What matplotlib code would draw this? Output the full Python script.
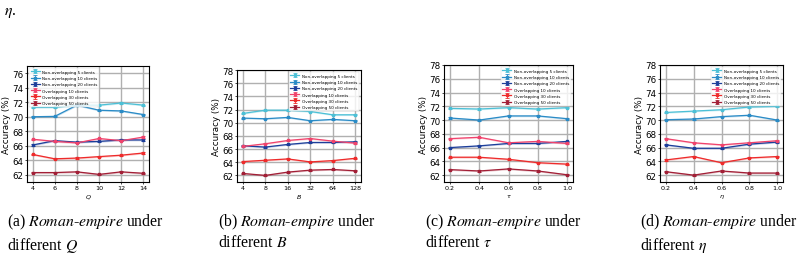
import numpy as np
import matplotlib
matplotlib.use('Agg')
import matplotlib.pyplot as plt

# series labels / colors
series_names = ['Non-overlapping 5 clients', 'Non-overlapping 10 clients', 'Non-overlapping 20 clients',
                'Overlapping 10 clients', 'Overlapping 30 clients', 'Overlapping 50 clients']
colors = ['#4cc0d6', '#2a8bc6', '#1c3e9a', '#f0436c', '#ee2b2b', '#a21f36']

# (a) different Q
q_vals = [4, 6, 8, 10, 12, 14]
acc_q = [
    [71.3, 71.3, 71.6, 71.6, 71.9, 71.6],
    [70.0, 70.05, 71.6, 70.9, 70.8, 70.3],
    [66.1, 66.7, 66.5, 66.6, 66.8, 66.8],
    [66.9, 66.6, 66.4, 67.0, 66.7, 67.2],
    [64.8, 64.2, 64.3, 64.5, 64.7, 65.0],
    [62.3, 62.3, 62.4, 62.05, 62.4, 62.2],
]

# (b) different B
b_labels = ['4', '8', '16', '32', '64', '128']
acc_b = [
    [71.4, 71.9, 71.9, 71.7, 71.2, 71.2],
    [70.7, 70.6, 70.8, 70.3, 70.5, 70.3],
    [66.5, 66.3, 66.7, 67.0, 67.0, 67.1],
    [66.4, 66.8, 67.3, 67.6, 67.2, 66.9],
    [64.1, 64.3, 64.5, 64.05, 64.25, 64.6],
    [62.3, 62.0, 62.5, 62.8, 62.9, 62.7],
]

# (c) different tau
tau_vals = [0.2, 0.4, 0.6, 0.8, 1.0]
acc_tau = [
    [71.7, 71.6, 71.8, 71.6, 71.8],
    [70.3, 70.0, 70.6, 70.6, 70.2],
    [66.0, 66.25, 66.6, 66.6, 66.9],
    [67.3, 67.5, 66.7, 66.9, 66.6],
    [64.6, 64.6, 64.3, 63.8, 63.6],
    [62.8, 62.6, 62.9, 62.6, 62.05],
]

# (d) different eta
eta_vals = [0.2, 0.4, 0.6, 0.8, 1.0]
acc_eta = [
    [71.1, 71.3, 71.5, 71.9, 72.0],
    [70.05, 70.15, 70.5, 70.7, 70.0],
    [66.4, 65.9, 65.9, 66.5, 66.8],
    [67.3, 66.7, 66.4, 66.7, 67.0],
    [64.2, 64.7, 63.8, 64.5, 64.7],
    [62.5, 62.0, 62.6, 62.3, 62.3],
]

captions = [r'(a) $\mathit{Roman}$-$\mathit{empire}$ under' + '\n' + r'different $Q$',
            r'(b) $\mathit{Roman}$-$\mathit{empire}$ under' + '\n' + r'different $B$',
            r'(c) $\mathit{Roman}$-$\mathit{empire}$ under' + '\n' + r'different $\tau$',
            r'(d) $\mathit{Roman}$-$\mathit{empire}$ under' + '\n' + r'different $\eta$']

fig = plt.figure(figsize=(8.05, 2.55), dpi=100)

# axes boxes in pixels: left, top, right, bottom
boxes = [(27, 67, 149, 183), (237, 71, 361, 183), (444, 66, 573, 183), (660, 66, 783, 183)]


def make_ax(box):
    l, t, r, b = box
    return fig.add_axes([l / 805, (255 - b) / 255, (r - l) / 805, (b - t) / 255])


def draw_panel(ax, x, data, xlabel, legend_loc, top):
    for vals, c, name in zip(data, colors, series_names):
        vals = np.array(vals)
        ax.fill_between(x, vals - 0.12, vals + 0.12, color=c, alpha=0.25, lw=0)
        ax.errorbar(x, vals, yerr=0.08, color=c, marker='s', ms=1.6, lw=0.9,
                    capsize=1.5, elinewidth=0.6, capthick=0.6, label=name)
    ax.set_ylim(61, top)
    ax.set_yticks(np.arange(62, top + 0.1, 2))
    ax.grid(True, color='#b0b0b0', linewidth=1.0)
    ax.set_axisbelow(True)
    ax.tick_params(axis='y', labelsize=6.3, length=1.5, width=0.5, pad=1)
    ax.tick_params(axis='x', labelsize=4.6, length=1.5, width=0.5, pad=1)
    ax.set_ylabel('Accuracy (%)', fontsize=6.3, labelpad=1)
    ax.set_xlabel(xlabel, fontsize=4.6, labelpad=1)
    for s in ax.spines.values():
        s.set_linewidth(0.8)
    leg = ax.legend(loc=legend_loc, fontsize=3.0, handlelength=2.2, handletextpad=0.6,
                    borderpad=0.4, labelspacing=0.55, framealpha=0.8, fancybox=False)
    leg.get_frame().set_linewidth(0.3)


ax_a = make_ax(boxes[0])
draw_panel(ax_a, q_vals, acc_q, r'$Q$', 'upper left', 77)
ax_a.set_xticks(q_vals)

ax_b = make_ax(boxes[1])
draw_panel(ax_b, np.arange(len(b_labels)), acc_b, r'$B$', 'upper right', 78)
ax_b.set_xticks(np.arange(len(b_labels)))
ax_b.set_xticklabels(b_labels)

ax_c = make_ax(boxes[2])
draw_panel(ax_c, tau_vals, acc_tau, r'$\tau$', 'upper right', 78)
ax_c.set_xticks(tau_vals)

ax_d = make_ax(boxes[3])
draw_panel(ax_d, eta_vals, acc_eta, r'$\eta$', 'upper right', 78)
ax_d.set_xticks(eta_vals)

# captions (serif, like the paper)
cap_x = [7, 218, 425, 640]
for cx, txt in zip(cap_x, captions):
    fig.text(cx / 805, 1 - 213 / 255, txt, fontsize=11.3, family='Liberation Serif',
             math_fontfamily='stix', va='top', ha='left', linespacing=1.25)

fig.text(4 / 805, 1 - 4 / 255, r'$\eta$.', fontsize=11.3, family='Liberation Serif',
         math_fontfamily='stix', va='top', ha='left')

fig.savefig('out.png', dpi=100)
